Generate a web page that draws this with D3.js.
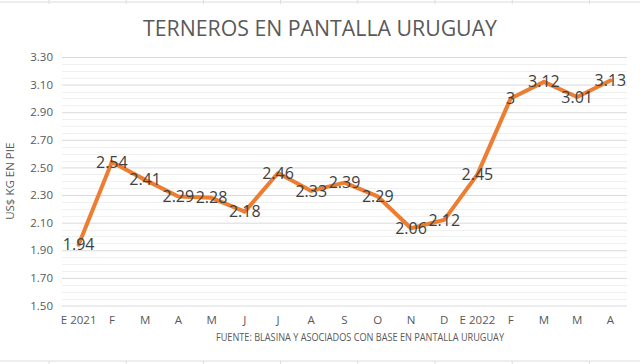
<!DOCTYPE html>
<html>
<head>
<meta charset="utf-8">
<script src="https://cdn.jsdelivr.net/npm/d3@7"></script>
<style>
  body { margin: 0; background: #fff; }
  svg { display: block; font-family: "Open Sans", "Liberation Sans", sans-serif; }
</style>
</head>
<body>
<svg id="chart" width="640" height="364"></svg>
<script>
// Chart data.
var months = ["E 2021", "F", "M", "A", "M", "J", "J", "A", "S", "O", "N", "D", "E 2022", "F", "M", "M", "A"];
var prices = [1.94, 2.54, 2.41, 2.29, 2.28, 2.18, 2.46, 2.33, 2.39, 2.29, 2.06, 2.12, 2.45, 3, 3.12, 3.01, 3.13];
var yTicks = [1.5, 1.7, 1.9, 2.1, 2.3, 2.5, 2.7, 2.9, 3.1, 3.3];

var svg = d3.select("#chart");
var W = 640, H = 364;
var plot = { left: 62, right: 627, top: 57, bottom: 305.5 };

// Spreadsheet cell borders peeking in at top and bottom.
var cellXs = d3.range(49, W, 77.2);
[2, 361].forEach(function(y) {
    svg.append("line").attr("x1", 0).attr("x2", W).attr("y1", y).attr("y2", y)
        .attr("stroke", "#dcdcdc").attr("stroke-width", 1);
    svg.selectAll(null).data(cellXs).enter().append("line")
        .attr("x1", function(d) { return d; }).attr("x2", function(d) { return d; })
        .attr("y1", y === 2 ? 0 : 361).attr("y2", y === 2 ? 4 : H)
        .attr("stroke", "#dcdcdc");
});

// Scales.
var x = d3.scaleBand().domain(d3.range(months.length)).range([plot.left, plot.right]);
var y = d3.scaleLinear().domain([1.5, 3.3]).range([plot.bottom, plot.top]);
var cx = function(i) { return x(i) + x.bandwidth() / 2; };

// Minor gridlines every 0.05.
var minor = d3.range(1.55, 3.3, 0.05).filter(function(v) {
    return Math.abs((v - 1.5) / 0.2 - Math.round((v - 1.5) / 0.2)) > 0.01;
});
svg.append("g").selectAll("line").data(minor).enter().append("line")
    .attr("x1", plot.left).attr("x2", plot.right)
    .attr("y1", function(d) { return Math.round(y(d)) + 0.5; })
    .attr("y2", function(d) { return Math.round(y(d)) + 0.5; })
    .attr("stroke", "#f0f0f0");

// Major gridlines and y labels via axis.
var yAxis = svg.append("g")
    .attr("transform", "translate(" + plot.left + ",0)")
    .call(d3.axisLeft(y).tickValues(yTicks).tickFormat(d3.format(".2f"))
        .tickSize(-(plot.right - plot.left)).tickPadding(9));
yAxis.select(".domain").remove();
yAxis.selectAll(".tick line").attr("stroke", "#d9d9d9");
yAxis.selectAll(".tick text").attr("fill", "#595959").attr("font-size", 11.5)
    .attr("font-family", "Open Sans, sans-serif");

// X labels.
var xAxis = svg.append("g")
    .attr("transform", "translate(0," + plot.bottom + ")")
    .call(d3.axisBottom(x).tickFormat(function(i) { return months[i]; }).tickSize(0).tickPadding(10));
xAxis.select(".domain").remove();
xAxis.selectAll(".tick text").attr("fill", "#595959").attr("font-size", 11.5)
    .attr("font-family", "Open Sans, sans-serif");

// Line.
var line = d3.line().x(function(d, i) { return cx(i); }).y(function(d) { return y(d); });
svg.append("path").datum(prices)
    .attr("d", line)
    .attr("fill", "none")
    .attr("stroke", "#ED7D31")
    .attr("stroke-width", 4)
    .attr("stroke-linejoin", "round")
    .attr("stroke-linecap", "round");

// Value labels centered on points.
svg.append("g").selectAll("text").data(prices).enter().append("text")
    .attr("x", function(d, i) { return cx(i); })
    .attr("y", function(d) { return y(d); })
    .attr("dy", "0.35em")
    .attr("text-anchor", "middle")
    .attr("font-size", 16)
    .attr("fill", "#404040")
    .text(function(d) { return String(d); });

// Title.
svg.append("text")
    .attr("x", 320).attr("y", 36)
    .attr("text-anchor", "middle")
    .attr("font-size", 22)
    .attr("fill", "#595959")
    .attr("textLength", 354).attr("lengthAdjust", "spacingAndGlyphs")
    .text("TERNEROS EN PANTALLA URUGUAY");

// Axis titles.
svg.append("text")
    .attr("transform", "translate(14," + ((plot.top + plot.bottom) / 2) + ") rotate(-90)")
    .attr("text-anchor", "middle")
    .attr("font-size", 11.5)
    .attr("fill", "#595959")
    .text("US$ KG EN PIE");

svg.append("text")
    .attr("x", 360).attr("y", 341)
    .attr("text-anchor", "middle")
    .attr("font-size", 11.5)
    .attr("fill", "#595959")
    .attr("textLength", 288).attr("lengthAdjust", "spacingAndGlyphs")
    .text("FUENTE: BLASINA Y ASOCIADOS CON BASE EN PANTALLA URUGUAY");
</script>
</body>
</html>
